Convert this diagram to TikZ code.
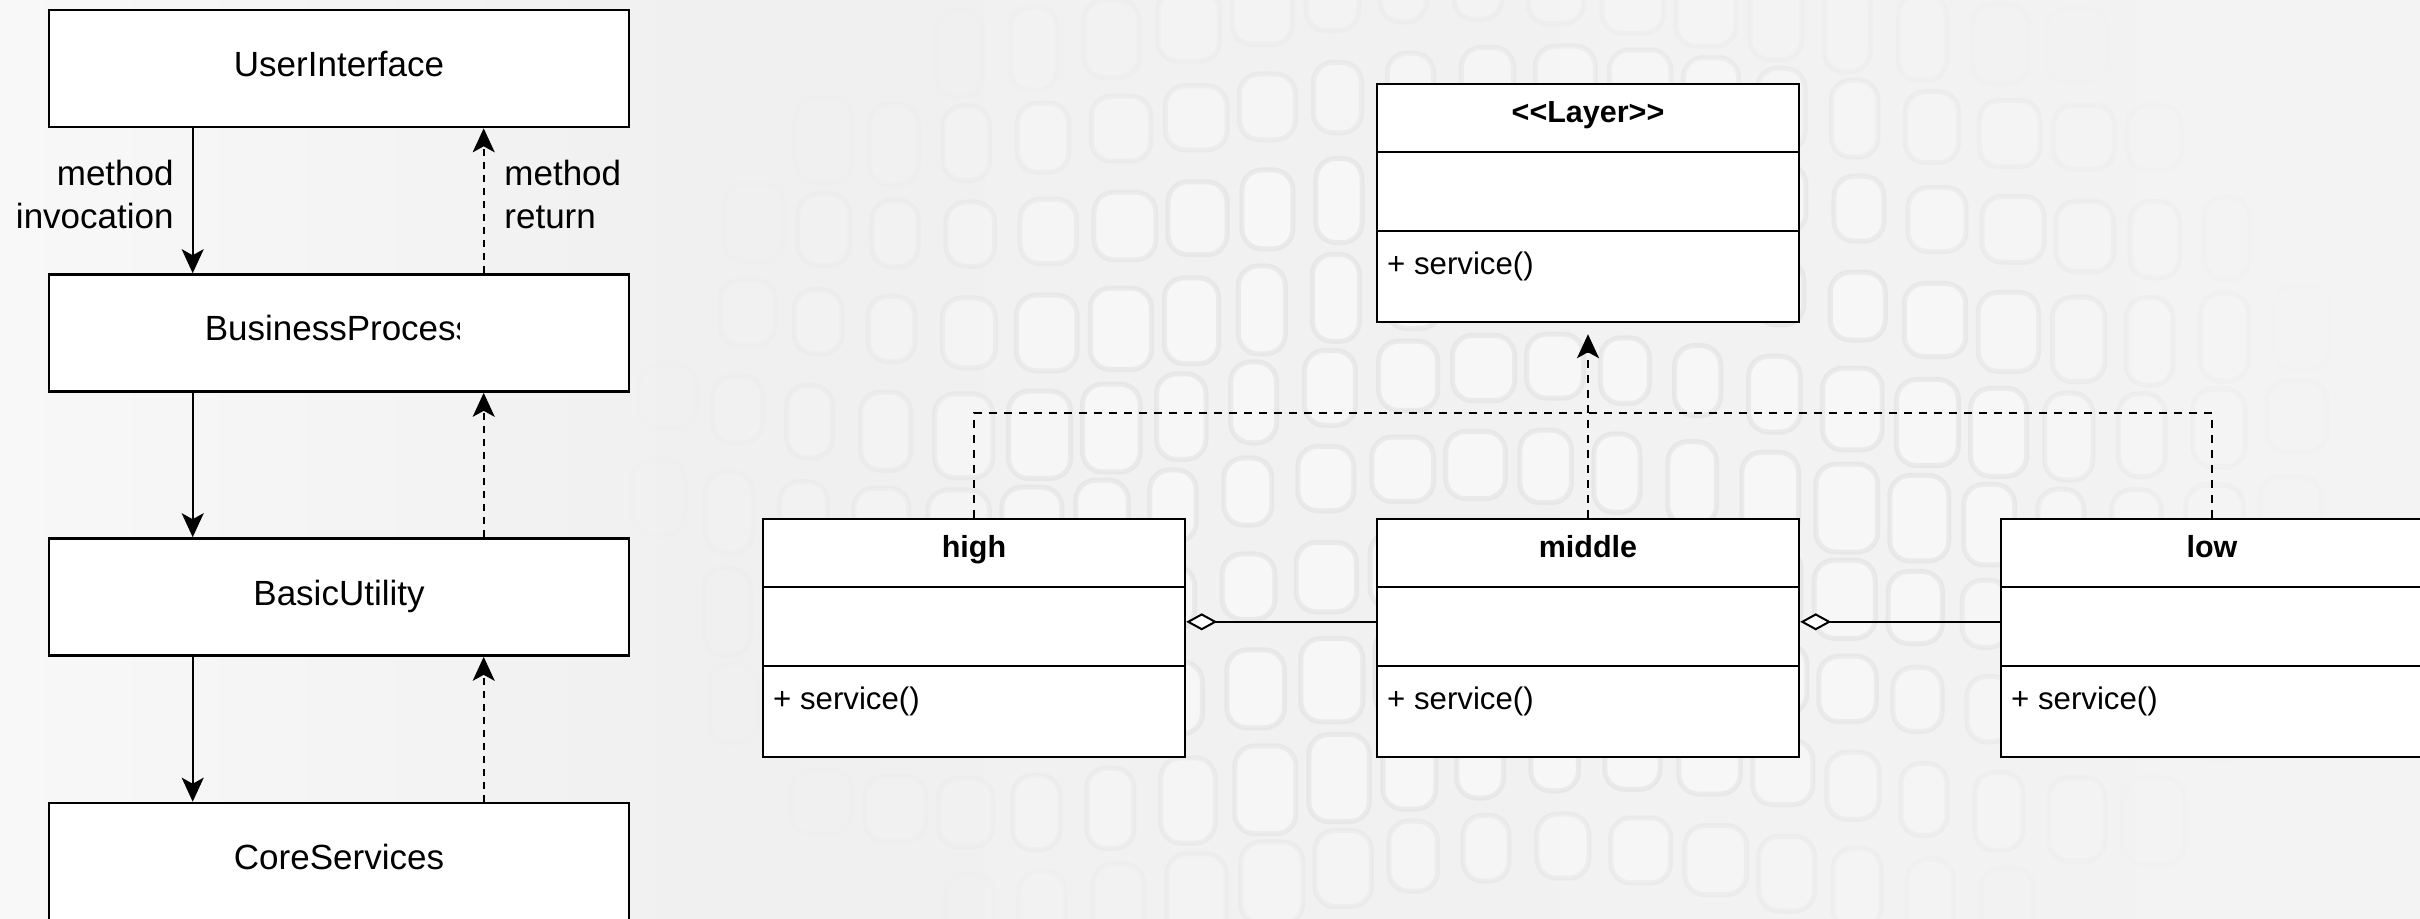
\documentclass[tikz,border=0pt]{standalone}
\usepackage{fontspec}
\setmainfont{Liberation Sans}
\usetikzlibrary{arrows.meta,calc}
\definecolor{bgleft}{HTML}{F8F8F8}
\definecolor{bgmid}{HTML}{F0F0F0}
\definecolor{bgright}{HTML}{F3F3F3}
\begin{document}
\begin{tikzpicture}[x=0.5pt,y=-0.5pt,
  layerbox/.style={draw, line width=1.3pt, fill=white, inner sep=0pt,
    minimum width=290pt, minimum height=58.5pt},
  layertext/.style={inner sep=0pt, text depth=0pt, font=\fontsize{17.5}{21.5}\selectfont},
  note/.style={inner sep=0pt, font=\fontsize{17.5}{21.5}\selectfont},
  classbox/.style={draw, line width=1.2pt, fill=white, inner sep=0pt,
    minimum width=211pt, minimum height=119pt},
  classname/.style={inner sep=0pt, text depth=0pt, font=\fontsize{15.25}{18}\selectfont\bfseries},
  member/.style={inner sep=0pt, anchor=west, font=\fontsize{15.6}{18}\selectfont},
  divider/.style={line width=1.2pt},
  call/.style={line width=1pt, -{Stealth[length=12pt,width=11pt,inset=3pt]}},
  ret/.style={call, dash pattern=on 3.5pt off 3pt},
  realize/.style={line width=1pt, dash pattern=on 4pt off 3.5pt},
  aggr/.style={line width=1pt, -{Diamond[length=15.5pt,width=8.5pt,fill=white]}},
  leathertile/.style={draw=black!14, fill=white, fill opacity=0.5, line width=2.5pt, rounded corners=10pt}
]
\useasboundingbox (0,0) rectangle (2420,918);

% leather-like backdrop
\shade[left color=bgleft, right color=bgmid] (0,0) rectangle (700,918);
\shade[left color=bgmid, right color=bgright] (700,0) rectangle (2420,918);
\foreach \c in {0,...,23}{
  \foreach \r in {0,...,9}{
    \pgfmathsetmacro\px{640+\c*74+10*sin(\r*47)}
    \pgfmathsetmacro\py{-20+\r*96+30*sin(\c*23)}
    \pgfmathsetmacro\tw{54+8*sin(\c*61+\r*37)}
    \pgfmathsetmacro\th{76+12*sin(\c*29+\r*71)}
    \pgfmathsetmacro\dd{sqrt(((\px-1480)/900)^2+((\py-430)/620)^2)}
    \pgfmathsetmacro\op{max(0,min(0.45,0.95-\dd))}
    \draw[leathertile, draw opacity=\op, fill opacity=\op] (\px,\py) rectangle ++(\tw,\th);
  }
}

% ---- layered call stack ----
\node[layerbox] (UI) at (339,68.5) {};
\node[layerbox] (BP) at (339,333) {};
\node[layerbox] (BU) at (339,597) {};
\node[layerbox] (CS) at (339,861.5) {};

\node[layertext] (UIt) at (339,64) {UserInterface};
\begin{scope}
  \clip (40,290) rectangle (459,370);
  \node[layertext] (BPt) at (339,328) {BusinessProcess};
\end{scope}
\node[layertext] (BUt) at (339,592.5) {BasicUtility};
\node[layertext] (CSt) at (339,857) {CoreServices};

\foreach \a/\b in {UI/BP, BP/BU, BU/CS}{
  \draw[call] ($(\a.south west)+(145,0)$) -- ($(\b.north west)+(145,0)$);
  \draw[ret] ($(\b.north west)+(436,0)$) -- ($(\a.south west)+(436,0)$);
}

\node[note, anchor=east, align=right] (inv) at (174,194) {method\\invocation};
\node[note, anchor=west, align=left] (rtn) at (504,194) {method\\return};

% ---- UML classes ----
\node[classbox] (layer)  at (1588,203) {};
\node[classbox] (high)   at (974,638) {};
\node[classbox] (middle) at (1588,638) {};
\node[classbox] (low)    at (2212,638) {};

\foreach \n in {layer, high, middle, low}{
  \draw[divider] ($(\n.north west)+(0,69)$) -- ($(\n.north east)+(0,69)$);
  \draw[divider] ($(\n.north west)+(0,148)$) -- ($(\n.north east)+(0,148)$);
  \node[member] (\n M) at ($(\n.north west)+(11,184)$) {+ service()};
}

\node[classname] (layerT)  at ($(layer.north)+(0,29)$) {<\kern0pt<Layer>\kern0pt>};
\node[classname] (highT)   at ($(high.north)+(0,29)$) {high};
\node[classname] (middleT) at ($(middle.north)+(0,29)$) {middle};
\node[classname] (lowT)    at ($(low.north)+(0,29)$) {low};

% realization of the layer interface
\draw[realize] (high.north) -- ++(0,-105) -| (low.north);
\draw[realize, -{Stealth[length=12pt,width=11pt,inset=3pt]}, shorten >=5.5pt]
  (middle.north) -- (layer.south);

% aggregation between neighbouring layers
\coordinate (hm) at ($(middle.north west)+(0,104)$);
\coordinate (ml) at ($(low.north west)+(0,104)$);
\draw[aggr] (hm) -- (hm -| high.east);
\draw[aggr] (ml) -- (ml -| middle.east);
\end{tikzpicture}
\end{document}
